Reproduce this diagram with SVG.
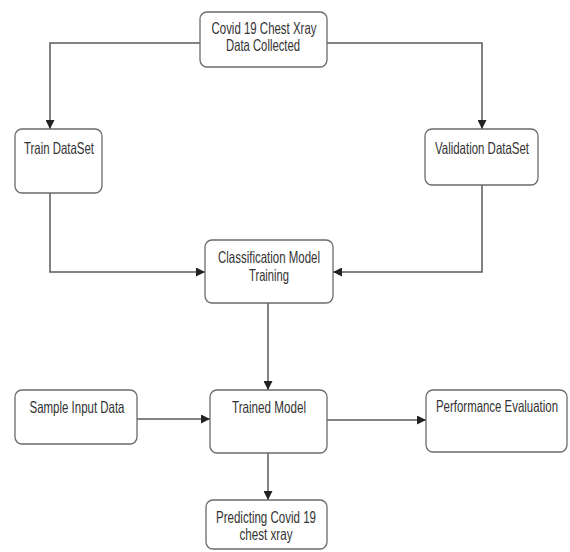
<svg xmlns="http://www.w3.org/2000/svg" width="570" height="552" viewBox="0 0 570 552">
<style>
.box{fill:#fff;stroke:#6b6b6b;stroke-width:1.3}
.t{font-family:"Liberation Sans",Arial,sans-serif;font-size:16.5px;fill:#333;text-anchor:middle}
.c{fill:none;stroke:#5a5a5a;stroke-width:1.5}
</style>
<defs>
<marker id="ah" viewBox="0 0 10 10" refX="10" refY="5" markerWidth="9" markerHeight="9" markerUnits="userSpaceOnUse" orient="auto">
<path d="M0,0 L10,5 L0,10 z" fill="#222"/>
</marker>
</defs>
<rect width="570" height="552" fill="#fff"/>
<g id="connectors">
<path class="c" d="M200,43 H50 V129" marker-end="url(#ah)"/>
<path class="c" d="M327,43 H482 V129" marker-end="url(#ah)"/>
<path class="c" d="M50,193 V272 H205" marker-end="url(#ah)"/>
<path class="c" d="M482,185 V272 H333" marker-end="url(#ah)"/>
<path class="c" d="M268,303 V390" marker-end="url(#ah)"/>
<path class="c" d="M137,419 H210" marker-end="url(#ah)"/>
<path class="c" d="M327,420 H426" marker-end="url(#ah)"/>
<path class="c" d="M268,453 V500" marker-end="url(#ah)"/>
</g>
<g id="n1"><rect class="box" x="200" y="12" width="127" height="55" rx="7"/>
<text class="t" x="264" y="34" textLength="105" lengthAdjust="spacingAndGlyphs">Covid 19 Chest Xray</text>
<text class="t" x="263" y="51" textLength="74" lengthAdjust="spacingAndGlyphs">Data Collected</text></g>
<g id="n2"><rect class="box" x="15" y="129" width="87" height="64" rx="7"/>
<text class="t" x="59" y="154" textLength="70" lengthAdjust="spacingAndGlyphs">Train DataSet</text></g>
<g id="n3"><rect class="box" x="425" y="129" width="113" height="56" rx="7"/>
<text class="t" x="482" y="154" textLength="94" lengthAdjust="spacingAndGlyphs">Validation DataSet</text></g>
<g id="n4"><rect class="box" x="205" y="240" width="128" height="63" rx="7"/>
<text class="t" x="269" y="263" textLength="102" lengthAdjust="spacingAndGlyphs">Classification Model</text>
<text class="t" x="269" y="281" textLength="40" lengthAdjust="spacingAndGlyphs">Training</text></g>
<g id="n5"><rect class="box" x="15" y="390" width="122" height="54" rx="7"/>
<text class="t" x="77" y="413" textLength="95" lengthAdjust="spacingAndGlyphs">Sample Input Data</text></g>
<g id="n6"><rect class="box" x="210" y="390" width="117" height="63" rx="7"/>
<text class="t" x="269" y="413" textLength="74" lengthAdjust="spacingAndGlyphs">Trained Model</text></g>
<g id="n7"><rect class="box" x="426" y="390" width="141" height="62" rx="7"/>
<text class="t" x="497" y="412" textLength="122" lengthAdjust="spacingAndGlyphs">Performance Evaluation</text></g>
<g id="n8"><rect class="box" x="206" y="500" width="121" height="49" rx="7"/>
<text class="t" x="266" y="523" textLength="100" lengthAdjust="spacingAndGlyphs">Predicting Covid 19</text>
<text class="t" x="266" y="540" textLength="53" lengthAdjust="spacingAndGlyphs">chest xray</text></g>
</svg>
